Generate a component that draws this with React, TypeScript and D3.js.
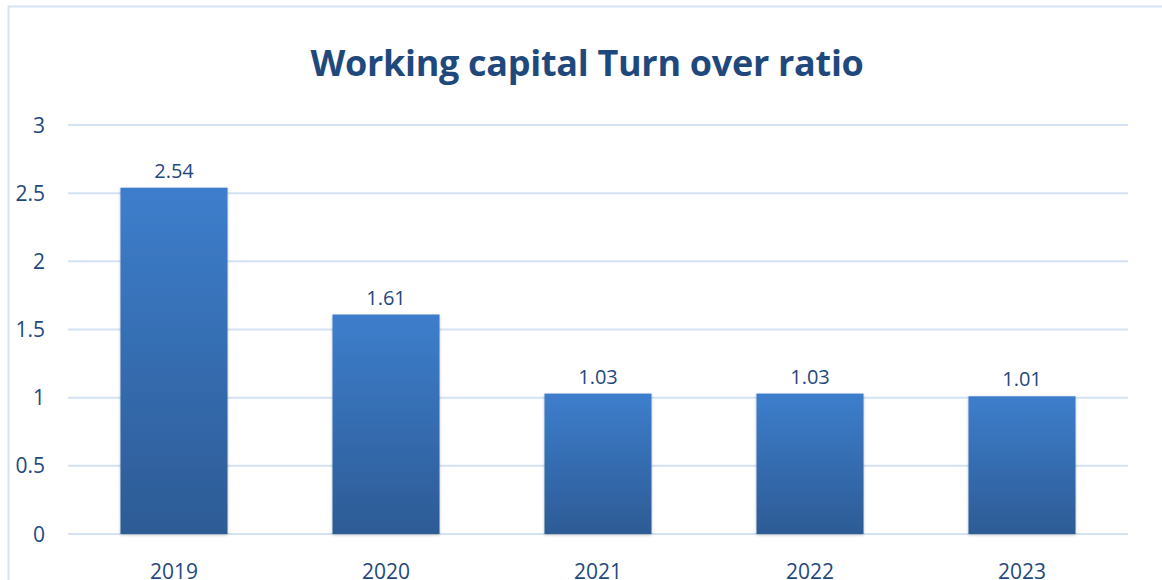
import React from "react";
import * as d3 from "d3";

const categories = ["2019", "2020", "2021", "2022", "2023"];
const values = [2.54, 1.61, 1.03, 1.03, 1.01];
const yTicks = [0, 0.5, 1, 1.5, 2, 2.5, 3];
const title = "Working capital Turn over ratio";

export default function App() {
  const W = 1162, H = 580;
  const x = d3.scaleBand<string>().domain(categories).range([68, 1128]).paddingInner(0.495).paddingOuter(0.2475);
  const y = d3.scaleLinear().domain([0, 3]).range([534, 125]);
  const font = "'Open Sans', 'Noto Sans', sans-serif";
  const textColor = "#1f497d";
  return (
    <svg width={W} height={H} style={{ position: "absolute", left: 0, top: 0, background: "#fff" }} fontFamily={font}>
      <defs>
        <linearGradient id="barGrad" x1="0" y1="0" x2="0" y2="1">
          <stop offset="0%" stopColor="#3d7ecc" />
          <stop offset="100%" stopColor="#2d5b95" />
        </linearGradient>
        <filter id="shadow" x="-10%" y="-10%" width="120%" height="120%">
          <feDropShadow dx="0" dy="1" stdDeviation="1.5" floodColor="#000" floodOpacity="0.25" />
        </filter>
      </defs>
      <rect x={8.5} y={6.5} width={1180} height={600} fill="none" stroke="#d6e3f3" strokeWidth={2} />
      <text x={587} y={76} textAnchor="middle" fontSize={36} fontWeight="bold" fill={textColor} fontFamily="'Open Sans', sans-serif" letterSpacing={-0.3}>
        {title}
      </text>
      {yTicks.map((t) => (
        <g key={t}>
          <line x1={68} x2={1128} y1={y(t)} y2={y(t)} stroke="#d5e2f3" strokeWidth={2} />
          <text x={45} y={y(t)} dy="0.36em" textAnchor="end" fontSize={21} fill={textColor}>
            {String(t)}
          </text>
        </g>
      ))}
      {categories.map((c, i) => {
        const bx = x(c)!;
        const bw = x.bandwidth();
        return (
          <g key={c}>
            <rect x={bx} y={y(values[i])} width={bw} height={y(0) - y(values[i])} fill="url(#barGrad)" filter="url(#shadow)" />
            <text x={bx + bw / 2} y={y(values[i]) - 10} textAnchor="middle" fontSize={20} fill={textColor}>
              {values[i].toFixed(2)}
            </text>
            <text x={bx + bw / 2} y={579} textAnchor="middle" fontSize={21} fill={textColor}>
              {c}
            </text>
          </g>
        );
      })}
    </svg>
  );
}
